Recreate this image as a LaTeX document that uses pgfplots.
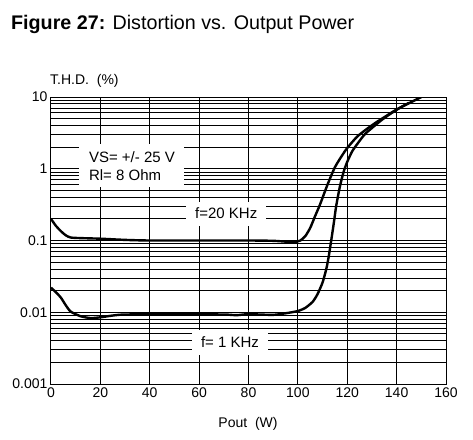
\documentclass[border=0pt]{standalone}
\usepackage{pgfplots}
\pgfplotsset{compat=1.18}
\usepackage{fontspec}
\setmainfont{Liberation Sans}
\begin{document}
\begin{tikzpicture}
\path[use as bounding box] (-51pt,-55pt) rectangle (422pt,384pt);
\begin{axis}[
  at={(0,0)}, anchor=south west,
  scale only axis, width=395pt, height=287pt,
  xmin=0, xmax=160, ymode=log, ymin=0.001, ymax=10,
  xtick={0,20,...,160},
  ytick={0.001,0.01,0.1,1,10},
  yticklabels={0.001,0.01,0.1,1,10},
  minor ytick={0.002,0.003,0.004,0.005,0.006,0.007,0.008,0.009,
               0.02,0.03,0.04,0.05,0.06,0.07,0.08,0.09,
               0.2,0.3,0.4,0.5,0.6,0.7,0.8,0.9,
               2,3,4,5,6,7,8,9},
  xmajorgrids, ymajorgrids, yminorgrids,
  grid style={black, line width=1pt},
  minor grid style={black, line width=1pt},
  major tick length=0pt, minor tick length=0pt,
  axis line style={black, line width=1pt},
  tick label style={font=\fontsize{14}{16}\selectfont},
  /pgf/number format/assume math mode=true,
  clip=true,
]
\addplot[black, line width=2.4pt, smooth, tension=0.4] coordinates {
(0,0.2)(2,0.16)(4,0.135)(6,0.118)(8,0.11)(12,0.108)(20,0.106)(30,0.102)
(40,0.1)(60,0.1)(80,0.1)(90,0.099)(96,0.096)(99,0.096)(101,0.1)(103,0.115)
(105,0.15)(107,0.22)(109,0.32)(112,0.6)(115,1.05)(118,1.55)(120,1.95)
(124,2.8)(128,3.6)(132,4.5)(136,5.5)(140,6.7)(145,8.2)(150,10)
};
\addplot[black, line width=2.4pt, smooth, tension=0.4] coordinates {
(0,0.022)(2,0.019)(4,0.016)(6,0.0125)(8,0.0102)(12,0.0088)(16,0.0083)(20,0.0085)
(25,0.009)(30,0.0093)(50,0.0094)(70,0.0093)(75,0.0091)(80,0.0094)(90,0.0092)
(96,0.0098)(100,0.0104)(103,0.0115)(106,0.014)(108,0.018)(110,0.026)(111.5,0.04)
(112.5,0.06)(113.5,0.1)(114.5,0.17)(115.5,0.3)(117,0.56)(118.5,0.9)(120,1.25)
(122,1.75)(124,2.2)(127,3.0)(130,3.7)(134,4.8)(138,6.0)(142,7.3)(145,8.3)
};
\node[fill=white, inner sep=0pt, minimum width=105pt, minimum height=43pt, align=left,
      font=\fontsize{15}{18}\selectfont] at (axis cs:32.8,1.1) {VS= +/- 25 V\\Rl= 8 Ohm};
\node[fill=white, inner sep=0pt, minimum width=80pt, minimum height=24pt,
      font=\fontsize{15}{18}\selectfont] at (axis cs:71,0.237) {f=20 KHz};
\node[fill=white, inner sep=0pt, minimum width=76pt, minimum height=25pt,
      font=\fontsize{15}{18}\selectfont] at (axis cs:72.5,0.00383) {f= 1 KHz};
\end{axis}
\node[anchor=base west, inner sep=0pt, font=\fontsize{19.7}{22}\selectfont] at (-40pt,354pt) {\textbf{Figure 27:} Distortion vs. Output Power};
\node[anchor=base west, inner sep=0pt, font=\fontsize{14}{16}\selectfont] at (-1pt,299pt) {T.H.D.\ \ (\%)};
\node[anchor=base, inner sep=0pt, font=\fontsize{14}{16}\selectfont] at (197pt,-43pt) {Pout\ \ (W)};
\end{tikzpicture}
\end{document}
